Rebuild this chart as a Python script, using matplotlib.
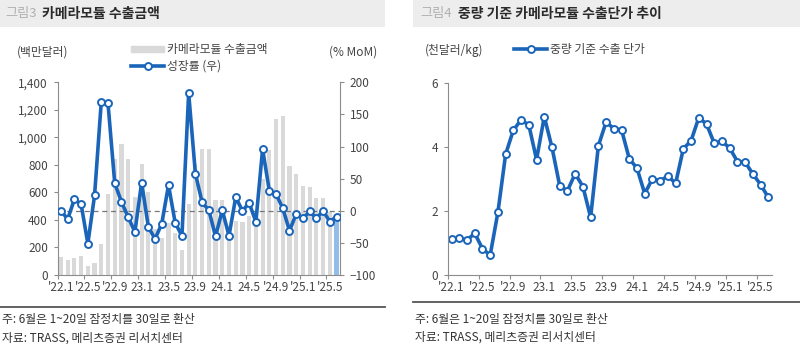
import numpy as np
import matplotlib
matplotlib.use("Agg")
import matplotlib.pyplot as plt
from matplotlib.patches import Rectangle
from matplotlib.lines import Line2D
from matplotlib.ticker import FuncFormatter

plt.rcParams['font.family'] = ['Noto Sans CJK KR', 'DejaVu Sans']

# 월별 데이터 ('22.1 ~ '25.6, 42개월)
months = ["'22.1", "'22.5", "'22.9", "23.1", "23.5", "23.9",
          "24.1", "24.5", "'24.9", "'25.1", "'25.5"]

# 카메라모듈 수출금액 (백만달러)
export_amt = [128, 109, 126, 138, 68, 85, 222, 592, 841, 955, 846, 568,
              803, 600, 336, 268, 377, 303, 183, 515, 808, 913, 913, 545,
              545, 330, 390, 388, 430, 358, 700, 910, 1130, 1153, 790, 737,
              646, 636, 558, 556, 461, 424]

# 성장률 (% MoM)
growth = [0, -13, 18, 10, -51, 24, 170, 167, 43, 14, -10, -33,
          44, -25, -44, -20, 40, -19, -39, 183, 58, 13, 1, -40,
          1, -39, 21, 0, 12, -17, 96, 31, 26, 4, -31, -5,
          -12, -1, -12, 0, -17, -9]

# 중량 기준 수출 단가 (천달러/kg)
unit_price = [1.11, 1.15, 1.09, 1.30, 0.82, 0.62, 1.96, 3.77, 4.52, 4.84, 4.68, 3.60,
              4.94, 3.98, 2.78, 2.63, 3.16, 2.76, 1.80, 4.03, 4.77, 4.57, 4.53, 3.63,
              3.33, 2.54, 3.00, 2.94, 3.09, 2.86, 3.94, 4.19, 4.91, 4.71, 4.11, 4.17,
              3.96, 3.54, 3.52, 3.15, 2.82, 2.42]

BLUE = '#1a65b9'
GREY_BAR = '#d9d9d9'
LAST_BAR = '#93bde9'
TXT = '#444444'
AXC = '#8c8c8c'
LW, MS = 2.6, 5

W, H = 800, 344
fig = plt.figure(figsize=(W / 100, H / 100), dpi=100)


def fx(px):
    return px / W


def fy(py):
    return 1 - py / H


n = len(export_amt)
x = np.arange(n) + 0.5
tick_pos = np.arange(0, n, 4)


def style_xaxis(ax):
    ax.set_xlim(0, n)
    ax.set_xticks(tick_pos)
    ax.set_xticklabels([])
    ax.set_xticks(tick_pos + 0.5, minor=True)
    ax.set_xticklabels(months, minor=True)
    ax.tick_params(axis='x', which='major', length=3, color=AXC, direction='out')
    ax.tick_params(axis='x', which='minor', length=0, labelsize=8.5,
                   labelcolor=TXT, pad=4)


# ---------------- 그림3 ----------------
fig.patches.append(Rectangle((0, fy(27)), fx(385), 27 / H, transform=fig.transFigure,
                             facecolor='#ededed', edgecolor='none'))
fig.text(fx(5), fy(14), '그림3', fontsize=9.5, color='#b0b0b0', va='center')
fig.text(fx(42), fy(14), '카메라모듈 수출금액', fontsize=10, color='#2b2b2b',
         fontweight='bold', va='center')

ax1 = fig.add_axes([fx(57.6), fy(275), fx(339.9 - 57.6), (275 - 82.3) / H])
colors = [GREY_BAR] * (n - 1) + [LAST_BAR]
ax1.bar(x, export_amt, width=0.62, color=colors, zorder=1)
ax1.set_ylim(0, 1400)
ax1.set_yticks(np.arange(0, 1401, 200))
ax1.yaxis.set_major_formatter(FuncFormatter(lambda v, p: f'{int(v):,}'))
ax1.tick_params(axis='y', length=3, color=AXC, labelsize=8.5, labelcolor=TXT, pad=4)
style_xaxis(ax1)
for s in ['top', 'right']:
    ax1.spines[s].set_visible(False)
for s in ['left', 'bottom']:
    ax1.spines[s].set_color(AXC)

ax2 = ax1.twinx()
ax2.set_ylim(-100, 200)
ax2.set_yticks(np.arange(-100, 201, 50))
ax2.axhline(0, color='#777777', lw=0.9, ls=(0, (4, 3)), zorder=1)
ax2.plot(x, growth, color=BLUE, lw=LW, marker='o', ms=MS,
         mfc='white', mec=BLUE, mew=1.4, zorder=3)
ax2.tick_params(axis='y', length=3, color=AXC, labelsize=8.5, labelcolor=TXT, pad=4)
for s in ['top', 'left', 'bottom']:
    ax2.spines[s].set_visible(False)
ax2.spines['right'].set_color(AXC)

fig.text(fx(17), fy(52), '(백만달러)', fontsize=8.5, color=TXT, va='center')
fig.text(fx(377), fy(52), '(% MoM)', fontsize=8.5, color=TXT, va='center', ha='right')

leg1 = ax1.legend([Rectangle((0, 0), 1, 1, color=GREY_BAR),
                   Line2D([], [], color=BLUE, lw=LW, marker='o', ms=MS,
                          mfc='white', mec=BLUE, mew=1.4)],
                  ['카메라모듈 수출금액', '성장률 (우)'],
                  loc='upper left', bbox_to_anchor=(fx(131), fy(43)),
                  bbox_transform=fig.transFigure, frameon=False, fontsize=8.5,
                  handlelength=2.8, handleheight=0.45, handletextpad=0.25,
                  labelspacing=0.3, borderpad=0, borderaxespad=0)
for t in leg1.get_texts():
    t.set_color(TXT)

# footer
fig.add_artist(Line2D([0, fx(385)], [fy(307), fy(307)], transform=fig.transFigure,
                      color='#555555', lw=1.3))
fig.text(fx(2), fy(320), '주: 6월은 1~20일 잠정치를 30일로 환산', fontsize=8.5,
         color='#333333', va='center')
fig.text(fx(2), fy(338), '자료: TRASS, 메리츠증권 리서치센터', fontsize=8.5,
         color='#333333', va='center')

# ---------------- 그림4 ----------------
fig.patches.append(Rectangle((fx(413), fy(27)), fx(387), 27 / H, transform=fig.transFigure,
                             facecolor='#ededed', edgecolor='none'))
fig.text(fx(420), fy(14), '그림4', fontsize=9.5, color='#b0b0b0', va='center')
fig.text(fx(458), fy(14), '중량 기준 카메라모듈 수출단가 추이', fontsize=10,
         color='#2b2b2b', fontweight='bold', va='center')

ax3 = fig.add_axes([fx(447.7), fy(275), fx(772.2 - 447.7), (275 - 82.7) / H])
ax3.plot(x, unit_price, color=BLUE, lw=LW, marker='o', ms=MS,
         mfc='white', mec=BLUE, mew=1.4, label='중량 기준 수출 단가', clip_on=False)
ax3.set_ylim(0, 6)
ax3.set_yticks([0, 2, 4, 6])
ax3.tick_params(axis='y', length=3, color=AXC, labelsize=8.5, labelcolor=TXT, pad=4)
style_xaxis(ax3)
for s in ['top', 'right']:
    ax3.spines[s].set_visible(False)
for s in ['left', 'bottom']:
    ax3.spines[s].set_color(AXC)

fig.text(fx(425), fy(50), '(천달러/kg)', fontsize=8.5, color=TXT, va='center')
leg2 = ax3.legend(loc='upper left', bbox_to_anchor=(fx(514), fy(43)),
                  bbox_transform=fig.transFigure, frameon=False, fontsize=8.5,
                  handlelength=2.8, handletextpad=0.25, borderpad=0, borderaxespad=0)
for t in leg2.get_texts():
    t.set_color(TXT)

fig.add_artist(Line2D([fx(413), 1], [fy(302), fy(302)], transform=fig.transFigure,
                      color='#555555', lw=1.3))
fig.text(fx(415), fy(319), '주: 6월은 1~20일 잠정치를 30일로 환산', fontsize=8.5,
         color='#333333', va='center')
fig.text(fx(415), fy(337), '자료: TRASS, 메리츠증권 리서치센터', fontsize=8.5,
         color='#333333', va='center')

fig.savefig('out.png', dpi=100)
